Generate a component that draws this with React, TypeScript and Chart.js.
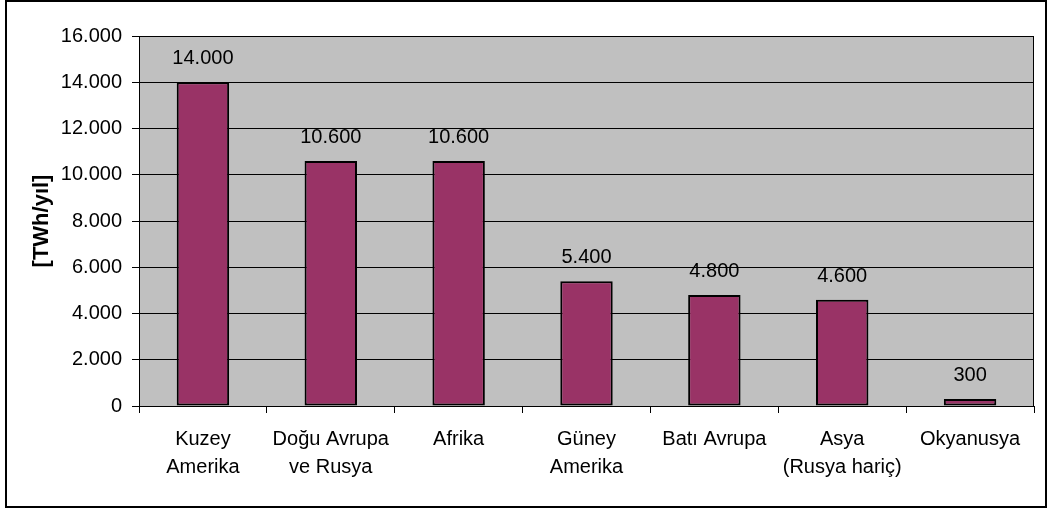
import React, { useEffect, useRef } from "react";
import { Chart, registerables } from "chart.js";

Chart.register(...registerables);

const categories: (string | string[])[] = [
  ["Kuzey", "Amerika"],
  ["Doğu Avrupa", "ve Rusya"],
  "Afrika",
  ["Güney", "Amerika"],
  "Batı Avrupa",
  ["Asya", "(Rusya hariç)"],
  "Okyanusya",
];
const values: number[] = [14000, 10600, 10600, 5400, 4800, 4600, 300];
const yAxisTitle = "[TWh/yıl]";
const yMin = 0;
const yMax = 16000;
const yStep = 2000;

const FONT = "'Liberation Sans', Arial, sans-serif";

function fmt(v: number): string {
  return String(v).replace(/\B(?=(\d{3})+(?!\d))/g, ".");
}

const plotPlugin = {
  id: "plotStyle",
  beforeDraw(chart: any) {
    const { ctx, chartArea: a, width, height } = chart;
    ctx.save();
    ctx.fillStyle = "#ffffff";
    ctx.fillRect(0, 0, width, height);
    ctx.fillStyle = "#C0C0C0";
    ctx.fillRect(a.left, a.top, a.right - a.left, a.bottom - a.top);
    ctx.restore();
  },
  afterDatasetsDraw(chart: any) {
    const { ctx } = chart;
    const meta = chart.getDatasetMeta(0);
    const data = chart.data.datasets[0].data as number[];
    ctx.save();
    ctx.fillStyle = "#000000";
    ctx.font = `20px ${FONT}`;
    ctx.textAlign = "center";
    ctx.textBaseline = "alphabetic";
    meta.data.forEach((bar: any, i: number) => {
      ctx.fillText(fmt(data[i]), bar.x, bar.y - 18);
    });
    ctx.restore();
  },
  afterDraw(chart: any) {
    const { ctx, chartArea: a } = chart;
    ctx.save();
    ctx.strokeStyle = "#000000";
    ctx.lineWidth = 1;
    ctx.strokeRect(a.left + 0.5, a.top + 0.5, a.right - a.left - 1, a.bottom - a.top);
    ctx.restore();
  },
};

export default function App() {
  const ref = useRef<HTMLCanvasElement | null>(null);

  useEffect(() => {
    if (!ref.current) return;
    const chart = new Chart(ref.current, {
      type: "bar",
      data: {
        labels: categories,
        datasets: [
          {
            data: values,
            backgroundColor: "#993366",
            borderColor: "#000000",
            borderWidth: 2,
            borderSkipped: false,
            barPercentage: 0.41,
            categoryPercentage: 1,
          },
        ],
      },
      options: {
        responsive: false,
        animation: false,
        devicePixelRatio: 1,
        layout: { padding: { left: 0, top: 36, right: 14, bottom: 0 } },
        plugins: {
          legend: { display: false },
          tooltip: { enabled: false },
        },
        scales: {
          x: {
            afterFit(scale: any) {
              scale.height = 102;
            },
            grid: {
              drawOnChartArea: false,
              drawTicks: true,
              offset: true,
              tickLength: 7,
              color: "#000000",
            },
            border: { display: true, color: "#000000", width: 1 },
            ticks: {
              color: "#000000",
              padding: 12,
              maxRotation: 0,
              autoSkip: false,
              font: { family: FONT, size: 20, lineHeight: 1.4 },
            },
          },
          y: {
            min: yMin,
            max: yMax,
            afterFit(scale: any) {
              scale.width = 139;
            },
            grid: {
              color: "#000000",
              lineWidth: 1,
              drawTicks: true,
              tickLength: 7,
            },
            border: { display: true, color: "#000000", width: 1 },
            ticks: {
              stepSize: yStep,
              color: "#000000",
              padding: 10,
              font: { family: FONT, size: 20 },
              callback: (v: any) => fmt(Number(v)),
            },
            title: {
              display: true,
              text: yAxisTitle,
              color: "#000000",
              padding: { top: 29, bottom: 0 },
              font: { family: FONT, size: 22, weight: "bold" },
            },
          },
        },
      },
      plugins: [plotPlugin],
    });
    return () => chart.destroy();
  }, []);

  return (
    <div style={{ position: "absolute", left: 0, top: 0, width: 1048, height: 508 }}>
      <canvas ref={ref} width={1048} height={508} style={{ display: "block" }} />
      <div
        style={{
          position: "absolute",
          left: 5,
          top: 0,
          width: 1042,
          height: 508,
          border: "2px solid #000",
          boxSizing: "border-box",
          pointerEvents: "none",
        }}
      />
    </div>
  );
}
